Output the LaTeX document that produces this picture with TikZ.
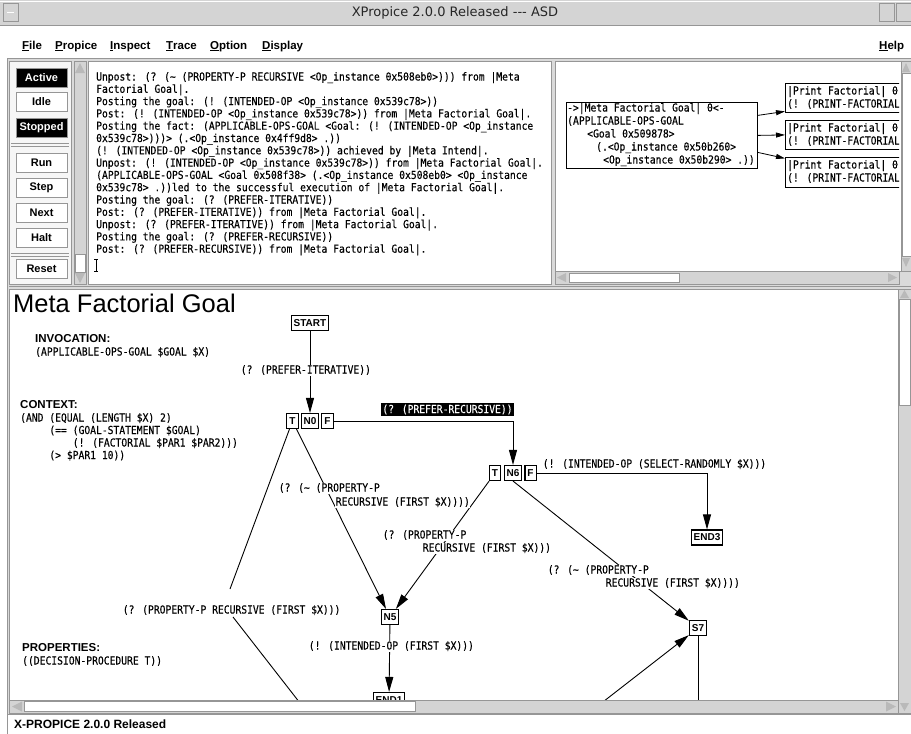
\documentclass[tikz,border=0pt]{standalone}
\usepackage{fontspec}
\setmainfont{Liberation Sans}
\newfontfamily\mono[FakeStretch=0.88,FakeBold=0.25]{DejaVu Sans Mono}
\newfontfamily\vera{DejaVu Sans}
\usetikzlibrary{arrows.meta}
\definecolor{winbg}{RGB}{218,218,218}
\definecolor{titlebg}{RGB}{212,212,212}
\definecolor{framec}{RGB}{150,150,150}
\definecolor{trackc}{RGB}{212,212,212}
\definecolor{arrowc}{RGB}{185,185,185}
\definecolor{panelbg}{RGB}{246,246,246}
\tikzset{
  mono/.style={font=\mono\fontsize{11}{12.3}\selectfont, inner sep=0pt},
  lbl/.style={mono, fill=white, inner sep=0.6pt, anchor=base west},
  gbox/.style={draw, line width=1.1pt, font=\bfseries\fontsize{10}{12}\selectfont, inner xsep=2.5pt, inner ysep=0pt, minimum height=15pt, fill=white},
  conn/.style={line width=0.9pt},
  arr/.style={conn, -{Triangle[length=15pt,width=8pt]}},
  smallarr/.style={line width=0.8pt, -{Triangle[length=9pt,width=5pt]}},
  btn/.style={draw=framec, line width=1pt, minimum width=51pt, minimum height=19pt, font=\bfseries\fontsize{11}{13}\selectfont, inner sep=0pt},
  btnon/.style={btn, fill=black, text=white},
  btnoff/.style={btn, fill=white, text=black},
  menuitem/.style={font=\bfseries\fontsize{11.5}{13}\selectfont, anchor=base west, inner sep=0pt},
  hdr/.style={font=\bfseries\fontsize{11.5}{13}\selectfont, anchor=base west, inner sep=0pt},
  scrolltrack/.style={fill=trackc, draw=framec, line width=0.6pt},
  thumb/.style={fill=white, draw=framec, line width=0.6pt},
  sarrow/.style={fill=arrowc},
}
\newcommand\logline[2]{\node[mono,anchor=base west] (log#1) at (96,{80.5+12.3*#1}) {#2};}
\begin{document}
\begin{tikzpicture}[x=1pt,y=-1pt]
\useasboundingbox (0,0) rectangle (911,734);
\fill[winbg] (0,0) rectangle (911,734);
% title bar
\fill[titlebg] (0,0) rectangle (911,25);
\draw[white] (0,1) -- (911,1);
\draw[framec] (0,25) -- (911,25);
\draw[framec, fill=titlebg] (3,3) rectangle (18,21);
\draw[white, line width=1pt] (7,12) -- (14,12);
\draw[framec, fill=titlebg] (879,3) rectangle (894,21);
\draw[framec, fill=titlebg] (896,3) rectangle (911,21);
\node[font=\vera\fontsize{13}{15}\selectfont, text=black!85, inner sep=0pt] (title) at (455,12.5) {XPropice 2.0.0 Released --- ASD};
% menu bar
\fill[white] (0,26) rectangle (911,58);
\draw[framec] (0,58) -- (911,58);
\node[menuitem] (mfile) at (22,49) {\underline{F}ile};
\node[menuitem] (mpropice) at (55,49) {\underline{P}ropice};
\node[menuitem] (minspect) at (110,49) {\underline{I}nspect};
\node[menuitem] (mtrace) at (166,49) {\underline{T}race};
\node[menuitem] (moption) at (210,49) {\underline{O}ption};
\node[menuitem] (mdisplay) at (262,49) {\underline{D}isplay};
\node[menuitem] (mhelp) at (879,49) {\underline{H}elp};
% left window edge
\fill[white] (0,58) rectangle (7,734);
\draw[framec, line width=1.5pt] (7.5,58) -- (7.5,734);
% button panel
\draw[framec, fill=panelbg] (9,61) rectangle (71,284);
\node[btnon] (bactive) at (41.5,78) {Active};
\node[btnoff] (bidle) at (41.5,102) {Idle};
\node[btnon] (bstopped) at (41.5,127.5) {Stopped};
\draw[framec] (11,143) -- (69,143);
\draw[framec] (11,146) -- (69,146);
\node[btnoff] (brun) at (41.5,163) {Run};
\node[btnoff] (bstep) at (41.5,188) {Step};
\node[btnoff] (bnext) at (41.5,213) {Next};
\node[btnoff] (bhalt) at (41.5,238) {Halt};
\draw[framec] (11,253) -- (69,253);
\draw[framec] (11,256) -- (69,256);
\node[btnoff] (breset) at (41.5,269) {Reset};
% text scrollbar
\draw[scrolltrack] (74,61) rectangle (86,284);
\fill[sarrow] (80,63) -- (85,73) -- (75,73) -- cycle;
\draw[thumb] (75,254) rectangle (85,272);
\fill[sarrow] (75,273) -- (85,273) -- (80,283) -- cycle;
% text panel
\draw[framec, fill=white] (88,61) rectangle (551,284);
\logline{0}{Unpost: (? (\textasciitilde{} (PROPERTY-P RECURSIVE <Op\_instance 0x508eb0>))) from |Meta}
\logline{1}{Factorial Goal|.}
\logline{2}{Posting the goal: (! (INTENDED-OP <Op\_instance 0x539c78>))}
\logline{3}{Post: (! (INTENDED-OP <Op\_instance 0x539c78>)) from |Meta Factorial Goal|.}
\logline{4}{Posting the fact: (APPLICABLE-OPS-GOAL <Goal: (! (INTENDED-OP <Op\_instance}
\logline{5}{0x539c78>)))> (.<Op\_instance 0x4ff9d8> .))}
\logline{6}{(! (INTENDED-OP <Op\_instance 0x539c78>)) achieved by |Meta Intend|.}
\logline{7}{Unpost: (! (INTENDED-OP <Op\_instance 0x539c78>)) from |Meta Factorial Goal|.}
\logline{8}{(APPLICABLE-OPS-GOAL <Goal 0x508f38> (.<Op\_instance 0x508eb0> <Op\_instance}
\logline{9}{0x539c78> .))led to the successful execution of |Meta Factorial Goal|.}
\logline{10}{Posting the goal: (? (PREFER-ITERATIVE))}
\logline{11}{Post: (? (PREFER-ITERATIVE)) from |Meta Factorial Goal|.}
\logline{12}{Unpost: (? (PREFER-ITERATIVE)) from |Meta Factorial Goal|.}
\logline{13}{Posting the goal: (? (PREFER-RECURSIVE))}
\logline{14}{Post: (? (PREFER-RECURSIVE)) from |Meta Factorial Goal|.}
\draw[line width=0.6pt] (96,259) -- (96,271) (94,259) -- (98,259) (94,271) -- (98,271);
% right panel
\draw[framec, fill=white] (555,61) rectangle (901,271);
\draw[scrolltrack] (901,61) rectangle (911,271);
\draw[thumb] (902,73) rectangle (911,256);
\fill[sarrow] (906,63) -- (910,72) -- (902,72) -- cycle;
\fill[sarrow] (902,258) -- (910,258) -- (906,267) -- cycle;
\draw[scrolltrack] (555,271) rectangle (899,284);
\fill[sarrow] (557,277.5) -- (566,273) -- (566,282) -- cycle;
\draw[thumb] (569,273) rectangle (679,282);
\fill[sarrow] (888,273) -- (897,277.5) -- (888,282) -- cycle;
\node[draw, line width=0.8pt, minimum width=191pt, minimum height=66pt, anchor=north west, inner sep=0pt] (meta) at (566,102) {};
\node[mono, anchor=base west] (meta1) at (567,111.5) {->|Meta Factorial Goal| 0<-};
\node[mono, anchor=base west] (meta2) at (567,124.5) {(APPLICABLE-OPS-GOAL};
\node[mono, anchor=base west] (meta3) at (587,137.5) {<Goal 0x509878>};
\node[mono, anchor=base west] (meta4) at (596,150.5) {(.<Op\_instance 0x50b260>};
\node[mono, anchor=base west] (meta5) at (603,163.5) {<Op\_instance 0x50b290> .))};
\begin{scope}
\clip (556,62) rectangle (899,270);
\node[draw, line width=0.8pt, anchor=north west, minimum width=140pt, minimum height=29pt, inner sep=0pt] (p1) at (785,83) {};
\node[draw, line width=0.8pt, anchor=north west, minimum width=140pt, minimum height=29pt, inner sep=0pt] (p2) at (785,120) {};
\node[draw, line width=0.8pt, anchor=north west, minimum width=140pt, minimum height=30pt, inner sep=0pt] (p3) at (785,157) {};
\node[mono, anchor=base west] (p1a) at (787,94.5) {|Print Factorial| 0};
\node[mono, anchor=base west] (p1b) at (787,107.5) {(! (PRINT-FACTORIAL};
\node[mono, anchor=base west] (p2a) at (787,131.5) {|Print Factorial| 0};
\node[mono, anchor=base west] (p2b) at (787,144.5) {(! (PRINT-FACTORIAL};
\node[mono, anchor=base west] (p3a) at (787,168.5) {|Print Factorial| 0};
\node[mono, anchor=base west] (p3b) at (787,181.5) {(! (PRINT-FACTORIAL};
\end{scope}
\draw[smallarr] ([yshift=20pt]meta.east) -- ([yshift=-13.5pt]p1.west);
\draw[smallarr] (meta.east) -- (p2.west);
\draw[smallarr] ([yshift=-17pt]meta.east) -- ([yshift=14pt]p3.west);
% divider
\draw[framec] (9,286.5) -- (911,286.5);
% graph panel
\draw[framec, fill=white] (9,289) rectangle (898,700);
\draw[scrolltrack] (898,289) rectangle (911,713);
\fill[sarrow] (904.5,290) -- (909,298) -- (900,298) -- cycle;
\draw[thumb] (899,299) rectangle (910,405);
\fill[sarrow] (900,703) -- (909,703) -- (904.5,711) -- cycle;
\draw[scrolltrack] (9,700) rectangle (898,713);
\fill[sarrow] (12,706.5) -- (22,701.5) -- (22,711.5) -- cycle;
\draw[thumb] (24,701.5) rectangle (415,711.5);
\fill[sarrow] (886,701.5) -- (896,706.5) -- (886,711.5) -- cycle;
\begin{scope}
\clip (9.5,289.5) rectangle (897.5,699.5);
\node[font=\fontsize{25.5}{28}\selectfont, anchor=base west, inner sep=0pt] (gtitle) at (13,312) {Meta Factorial Goal};
\node[hdr] (hinv) at (35,342) {INVOCATION:};
\node[mono, anchor=base west] (tinv) at (35,355.5) {(APPLICABLE-OPS-GOAL \$GOAL \$X)};
\node[hdr] (hctx) at (20,408) {CONTEXT:};
\node[mono, anchor=base west] (tctx1) at (20,421.5) {(AND (EQUAL (LENGTH \$X) 2)};
\node[mono, anchor=base west] (tctx2) at (49.2,434) {(== (GOAL-STATEMENT \$GOAL)};
\node[mono, anchor=base west] (tctx3) at (72.6,446.5) {(! (FACTORIAL \$PAR1 \$PAR2)))};
\node[mono, anchor=base west] (tctx4) at (49.2,459) {(> \$PAR1 10))};
\node[hdr] (hprop) at (22,651) {PROPERTIES:};
\node[mono, anchor=base west] (tprop) at (22,664.5) {((DECISION-PROCEDURE T))};
% nodes
\node[gbox] (start) at (310,323) {START};
\node[gbox] (t0) at (292.5,421) {T};
\node[gbox] (n0) at (310,421) {N0};
\node[gbox] (f0) at (327.5,421) {F};
\node[gbox] (t6) at (495,473) {T};
\node[gbox] (n6) at (513,473) {N6};
\node[gbox] (f6) at (530.5,473) {F};
\node[gbox] (n5) at (390,617) {N5};
\node[gbox] (end3) at (707,537.5) {END3};
\node[gbox] (s7) at (698,628) {S7};
\node[gbox] (end1) at (389,700) {END1};
\coordinate (a1) at (230,589);
\coordinate (a2) at (233,617);
\coordinate (e1) at (307,712);
\coordinate (s7in) at (590,712);
\coordinate (s7out) at (698,712);
% connectors
\draw[arr] (start) -- (n0);
\draw[arr] (f0.east) -| (n6.north);
\draw[conn] (t0) -- (a1);
\draw[conn] (a2) -- (e1);
\draw[arr] (t0) -- (n5);
\draw[arr] (t6) -- (n5);
\draw[arr] (n6.south) -- (s7);
\draw[arr] (f6.east) -| (end3.north);
\draw[arr] (n5) -- (end1);
\draw[arr] (s7in) -- (s7);
\draw[conn] (s7) -- (s7out);
% labels
\node[lbl] (lit) at (240,373.5) {(? (PREFER-ITERATIVE))};
\node[mono, anchor=base west, fill=black, text=white, inner sep=1.2pt] (lrec) at (381,413) {(? (PREFER-RECURSIVE))};
\node[lbl] (lsel) at (542,467.5) {(! (INTENDED-OP (SELECT-RANDOMLY \$X)))};
\node[lbl] (la) at (122,613.5) {(? (PROPERTY-P RECURSIVE (FIRST \$X)))};
\node[lbl] (lb1) at (278,491.5) {(? (\textasciitilde{} (PROPERTY-P};
\node[lbl] (lb2) at (335,505.5) {RECURSIVE (FIRST \$X))))};
\node[lbl] (lc1) at (382,538.5) {(? (PROPERTY-P};
\node[lbl] (lc2) at (422,551.5) {RECURSIVE (FIRST \$X)))};
\node[lbl] (ld1) at (547,573.5) {(? (\textasciitilde{} (PROPERTY-P};
\node[lbl] (ld2) at (605,586.5) {RECURSIVE (FIRST \$X))))};
\node[lbl] (le) at (308,649.5) {(! (INTENDED-OP (FIRST \$X)))};
\end{scope}
% status bar
\fill[white] (8,714) rectangle (911,734);
\draw[framec] (8,714) -- (911,714);
\node[font=\bfseries\fontsize{12}{14}\selectfont, anchor=base west, inner sep=0pt] (status) at (14,728.5) {X-PROPICE 2.0.0 Released};
\end{tikzpicture}
\end{document}
